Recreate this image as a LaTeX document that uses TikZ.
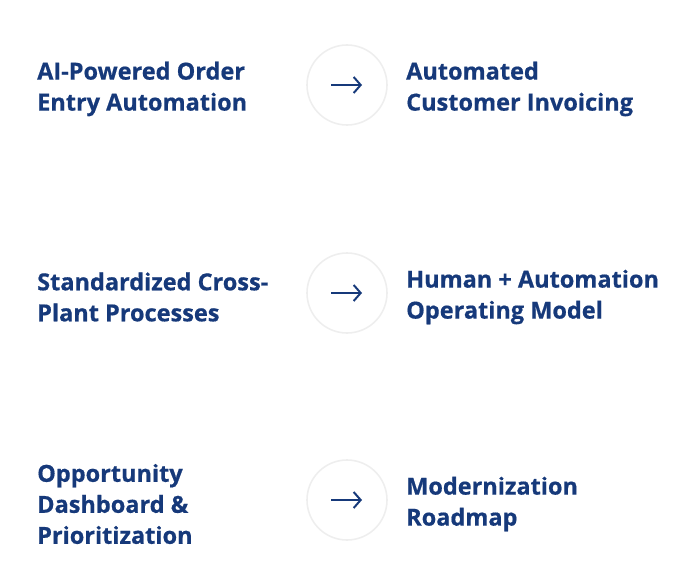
\documentclass[tikz,border=0pt]{standalone}
\usepackage{fontspec}
\setmainfont{Open Sans}[FakeBold=0.6]
\usetikzlibrary{arrows.meta}
\definecolor{navy}{HTML}{16397A}
\definecolor{ringgray}{HTML}{EEEEEE}
\begin{document}
\begin{tikzpicture}[x=1pt,y=-1pt,
  item/.style={anchor=west,align=left,text=navy,font=\fontsize{23.5}{31}\selectfont\bfseries,inner sep=0pt},
  ring/.style={circle,draw=ringgray,line width=1.6pt,minimum size=80pt,inner sep=0pt}]
  \useasboundingbox (0,0) rectangle (695,588);
  % rows
  \foreach \y/\src/\dst/\n in {89/{AI-Powered Order\\Entry Automation}/{Automated\\Customer Invoicing}/a,
      297/{Standardized Cross-\\Plant Processes}/{Human + Automation\\Operating Model}/b,
      504/{Opportunity\\Dashboard \&\\Prioritization}/{Modernization\\Roadmap}/c} {
    \node[item] (src\n) at (37,\y) {\src};
    \node[ring] (ring\n) at (347,\y-4) {};
    \node[item] (dst\n) at (406,\y) {\dst};
    \coordinate (l\n) at ([xshift=-16pt]ring\n.center);
    \coordinate (r\n) at ([xshift=15pt]ring\n.center);
    \draw[navy,line width=2pt,-{Straight Barb[length=7pt,width=16pt]}] (l\n) -- (r\n);
  }
\end{tikzpicture}
\end{document}
